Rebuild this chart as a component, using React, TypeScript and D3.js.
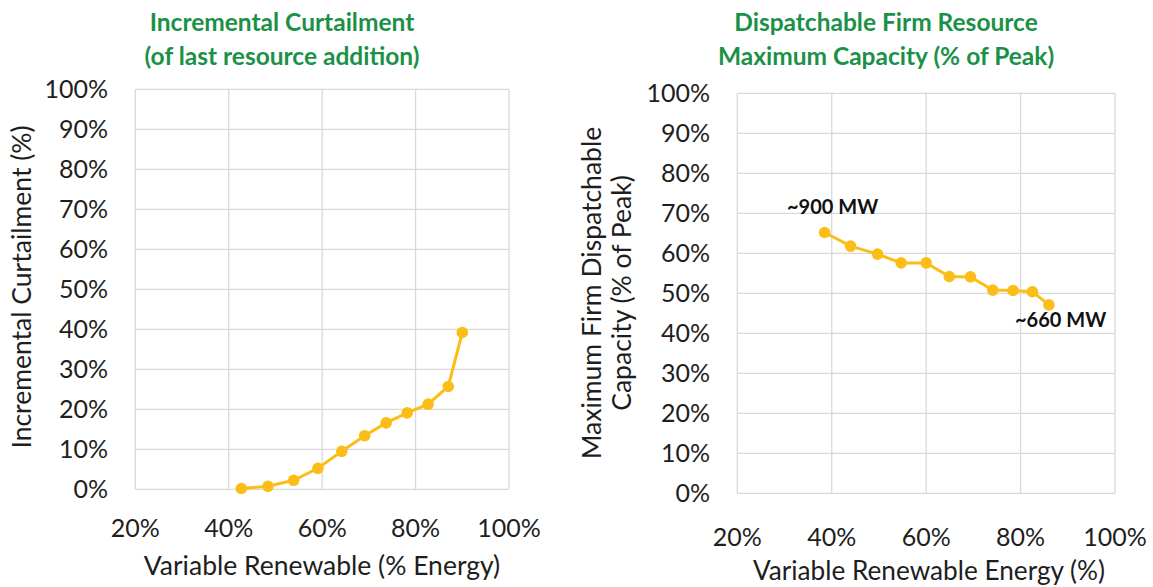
import React from "react";
import * as d3 from "d3";

const leftX = [42.7, 48.4, 53.9, 59.1, 64.2, 69.1, 73.7, 78.2, 82.7, 87.0, 90.0];
const leftY = [0.2, 0.75, 2.25, 5.25, 9.5, 13.4, 16.6, 19.1, 21.3, 25.7, 39.2];
const rightX = [38.5, 44.0, 49.7, 54.7, 60.0, 64.9, 69.4, 74.1, 78.4, 82.5, 86.0];
const rightY = [65.2, 61.8, 59.8, 57.6, 57.6, 54.2, 54.1, 50.8, 50.7, 50.4, 47.1];
const xTicks = [20, 40, 60, 80, 100];
const yTicks = [0, 10, 20, 30, 40, 50, 60, 70, 80, 90, 100];

const FONT = "Lato, 'Open Sans', sans-serif";
const GREEN = "#1b9148";
const GOLD = "#fbbd18";
const GRID = "#d9d9d9";
const TXT = "#1e1e1e";

type PanelProps = {
  xs: number[];
  ys: number[];
  x0: number; x1: number; y0: number; y1: number;
  yLabelRight: number;
  xLabelY: number;
};

function Panel({ xs, ys, x0, x1, y0, y1, yLabelRight, xLabelY }: PanelProps) {
  const x = d3.scaleLinear().domain([20, 100]).range([x0, x1]);
  const y = d3.scaleLinear().domain([0, 100]).range([y0, y1]);
  const pts = xs.map((v, i) => [x(v), y(ys[i])] as [number, number]);
  const line = d3.line()(pts) || "";
  return (
    <g>
      {yTicks.map((t) => (
        <line key={"h" + t} x1={x0} x2={x1} y1={y(t)} y2={y(t)} stroke={GRID} strokeWidth={1.3} />
      ))}
      {xTicks.map((t) => (
        <line key={"v" + t} x1={x(t)} x2={x(t)} y1={y0} y2={y1} stroke={GRID} strokeWidth={1.3} />
      ))}
      {yTicks.map((t) => (
        <text key={"yl" + t} x={yLabelRight} y={y(t)} dy="0.36em" textAnchor="end"
          fontFamily={FONT} fontSize={25} fill={TXT}>{t + "%"}</text>
      ))}
      {xTicks.map((t) => (
        <text key={"xl" + t} x={x(t)} y={xLabelY} dy="0.36em" textAnchor="middle"
          fontFamily={FONT} fontSize={25} fill={TXT}>{t + "%"}</text>
      ))}
      <path d={line} fill="none" stroke={GOLD} strokeWidth={3} />
      {pts.map((p, i) => (
        <circle key={"c" + i} cx={p[0]} cy={p[1]} r={5.8} fill={GOLD} />
      ))}
    </g>
  );
}

export default function App() {
  return (
    <svg width={1153} height={587} style={{ position: "absolute", left: 0, top: 0, background: "#fff" }}>
      {/* Left titles */}
      <text x={282} y={22} dy="0.35em" textAnchor="middle" fontFamily={FONT} fontWeight="bold" fontSize={24.5} fill={GREEN}>Incremental Curtailment</text>
      <text x={282} y={56} dy="0.35em" textAnchor="middle" fontFamily={FONT} fontWeight="bold" fontSize={24.5} fill={GREEN}>(of last resource addition)</text>
      {/* Right titles */}
      <text x={886} y={22} dy="0.35em" textAnchor="middle" fontFamily={FONT} fontWeight="bold" fontSize={24.5} fill={GREEN}>Dispatchable Firm Resource</text>
      <text x={886} y={56} dy="0.35em" textAnchor="middle" fontFamily={FONT} fontWeight="bold" fontSize={24.5} fill={GREEN}>Maximum Capacity (% of Peak)</text>

      <Panel xs={leftX} ys={leftY} x0={135.3} x1={509} y0={489.3} y1={89.3} yLabelRight={108} xLabelY={528} />
      <Panel xs={rightX} ys={rightY} x0={737.3} x1={1115} y0={493.3} y1={93.3} yLabelRight={710} xLabelY={537} />

      {/* axis titles */}
      <text x={322} y={575} textAnchor="middle" fontFamily={FONT} fontSize={26.5} fill={TXT}>Variable Renewable (% Energy)</text>
      <text x={929} y={580} textAnchor="middle" fontFamily={FONT} fontSize={26.2} fill={TXT}>Variable Renewable Energy (%)</text>
      <text transform="translate(22,287) rotate(-90)" dy="0.35em" textAnchor="middle" fontFamily={FONT} fontSize={26.5} fill={TXT}>Incremental Curtailment (%)</text>
      <text transform="translate(592,293) rotate(-90)" dy="0.35em" textAnchor="middle" fontFamily={FONT} fontSize={26.5} fill={TXT}>Maximum Firm Dispatchable</text>
      <text transform="translate(622,293) rotate(-90)" dy="0.35em" textAnchor="middle" fontFamily={FONT} fontSize={26.5} fill={TXT}>Capacity (% of Peak)</text>

      {/* annotations */}
      <text x={787} y={207} dy="0.35em" fontFamily={FONT} fontWeight="bold" fontSize={20} fill="#111">~900 MW</text>
      <text x={1015} y={320} dy="0.35em" fontFamily={FONT} fontWeight="bold" fontSize={20} fill="#111">~660 MW</text>
    </svg>
  );
}
